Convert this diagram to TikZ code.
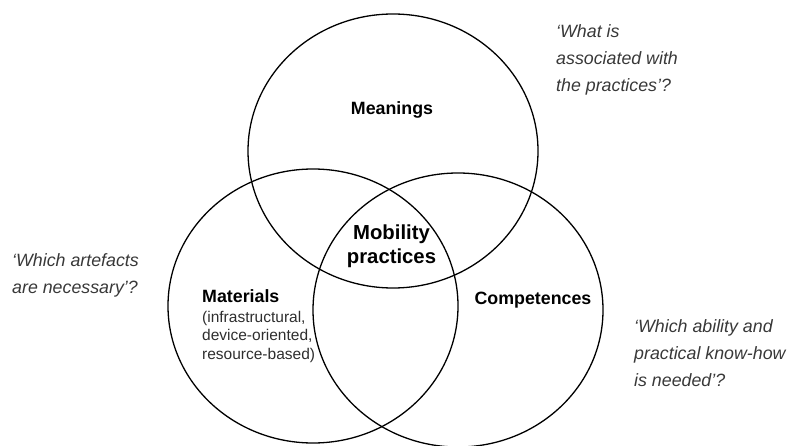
\documentclass[tikz,border=0pt]{standalone}
\usepackage{fontspec}
\setmainfont{Liberation Sans}
\usetikzlibrary{shapes.geometric}
\begin{document}
\begin{tikzpicture}[x=1pt,y=-1pt,
  venn/.style={ellipse,draw=black,line width=1.3pt,minimum width=290pt,minimum height=274pt,inner sep=0pt},
  lab/.style={inner sep=0pt,text=black,font=\bfseries\fontsize{17.8}{21}\selectfont},
  center/.style={inner sep=0pt,text=black,font=\bfseries\fontsize{20.3}{24.5}\selectfont},
  sub/.style={inner sep=0pt,text=black!82,font=\fontsize{15.5}{18.4}\selectfont},
  quest/.style={inner sep=0pt,text=black!78,font=\itshape\fontsize{17.8}{27.2}\selectfont}]
\useasboundingbox (0,0) rectangle (791,446);
\node[venn] (meanC) at (393,151) {};
\node[venn] (matC) at (313,306) {};
\node[venn] (compC) at (458,310) {};
\node[lab,anchor=base] (meanings) at (392,115) {Meanings};
\node[center,anchor=base] (mobility) at (391.5,239) {\begin{tabular}[t]{@{}c@{}}Mobility\\practices\end{tabular}};
\node[lab,anchor=base] (competences) at (533,304) {Competences};
\node[lab,anchor=base west] (materials) at (202,302.7) {Materials};
\node[sub,anchor=base west] (matsub) at (202,322.3) {\begin{tabular}[t]{@{}l@{}}(infrastructural,\\device-oriented,\\resource-based)\end{tabular}};
\node[quest,anchor=base west] (q1) at (556,37.3) {\begin{tabular}[t]{@{}l@{}}‘What is\\associated with\\the practices’?\end{tabular}};
\node[quest,anchor=base west] (q2) at (12,266) {\begin{tabular}[t]{@{}l@{}}‘Which artefacts\\are necessary’?\end{tabular}};
\node[quest,anchor=base west] (q3) at (634,332.3) {\begin{tabular}[t]{@{}l@{}}‘Which ability and\\practical know-how\\is needed’?\end{tabular}};
\end{tikzpicture}
\end{document}
